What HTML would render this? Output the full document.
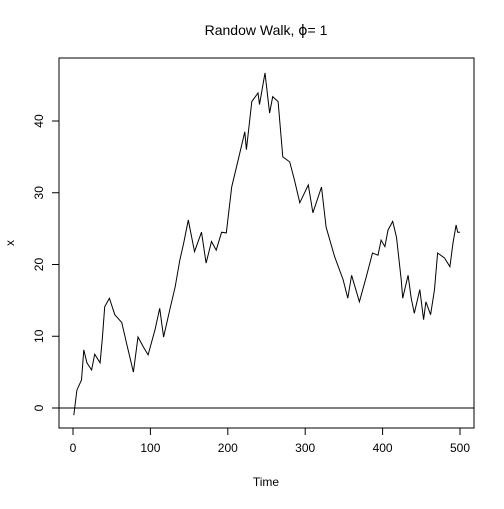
<!DOCTYPE html>
<html><head><meta charset="utf-8"><style>
body{margin:0;background:#fff}
svg text{font-family:"Liberation Sans",Arial,sans-serif;fill:#000}
</style></head><body>
<svg id="chart" width="504" height="504" viewBox="0 0 504 504" xmlns="http://www.w3.org/2000/svg">
<rect x="0" y="0" width="504" height="504" fill="#fff"/>
<text x="266" y="35" font-size="14" text-anchor="middle">Randow Walk, <tspan font-family="DejaVu Sans">ϕ</tspan>= 1</text>
<rect x="59" y="58" width="415" height="370" fill="none" stroke="#000" stroke-width="1"/>
<text x="266" y="486" font-size="12" text-anchor="middle">Time</text>
<text x="14" y="243" font-size="12" text-anchor="middle" transform="rotate(-90 14 243)">x</text>
<g id="axes"></g>
<path id="line" fill="none" stroke="#000" stroke-width="1"/>
</svg>
<script>
const times = [1,5,11,14,18,24,28,35,38,41,47,54,63,69,78,84,91,97,106,112,117,125,132,138,143,149,157,166,172,179,185,192,198,205,215,222,224,231,239,241,248,254,258,265,271,280,286,293,304,310,321,327,338,349,355,360,370,379,387,394,398,403,407,413,418,424,426,433,437,441,448,453,456,462,467,471,480,487,491,495,497,500];
const values = [-1,2.5,3.9,8.1,6.3,5.3,7.5,6.3,9.8,14.1,15.3,13,11.9,9.1,5,9.9,8.5,7.4,10.9,13.9,9.9,13.7,16.9,20.6,23,26.2,21.8,24.5,20.2,23.2,22,24.5,24.4,30.8,35.3,38.5,36,42.7,43.9,42.3,46.7,41.1,43.4,42.7,35,34.3,31.8,28.6,31.1,27.2,30.8,25.2,21.1,17.9,15.3,18.5,14.8,18.3,21.6,21.3,23.4,22.5,24.8,26,23.8,17.9,15.3,18.5,15.3,13.2,16.5,12.3,14.8,13,16.5,21.6,20.9,19.7,23,25.5,24.5,24.5];
const xTicks = [0,100,200,300,400,500];
const yTicks = [0,10,20,30,40];
function xs(t){return 73 + (t-0)*(460-73)/500;}
function ys(v){return 408 - v*(408-121)/40;}
const NS="http://www.w3.org/2000/svg";
const axes=document.getElementById('axes');
function mk(tag,attrs){const e=document.createElementNS(NS,tag);for(const k in attrs)e.setAttribute(k,attrs[k]);return e;}
xTicks.forEach(t=>{
  const l=mk('line',{x1:xs(t),x2:xs(t),y1:428,y2:435,stroke:'#000'});
  
  
  axes.appendChild(l);
  const tx=mk('text',{x:xs(t),y:452,'font-size':12,'text-anchor':'middle'});
  
  
  tx.textContent=t;axes.appendChild(tx);
});
yTicks.forEach(v=>{
  const l=mk('line',{x1:52,x2:59,y1:ys(v),y2:ys(v),stroke:'#000'});
  
  
  axes.appendChild(l);
  const tx=mk('text',{x:43,y:ys(v),'font-size':12,'text-anchor':'middle',transform:'rotate(-90 43 '+ys(v)+')'});
  
  
  tx.textContent=v;axes.appendChild(tx);
});
const zl=mk('line',{x1:59,x2:474,y1:ys(0),y2:ys(0),stroke:'#000'});


axes.appendChild(zl);
document.getElementById('line').setAttribute('d',times.map((t,i)=>(i?'L':'M')+xs(t).toFixed(1)+' '+ys(values[i]).toFixed(1)).join(' '));
</script>
</body></html>
